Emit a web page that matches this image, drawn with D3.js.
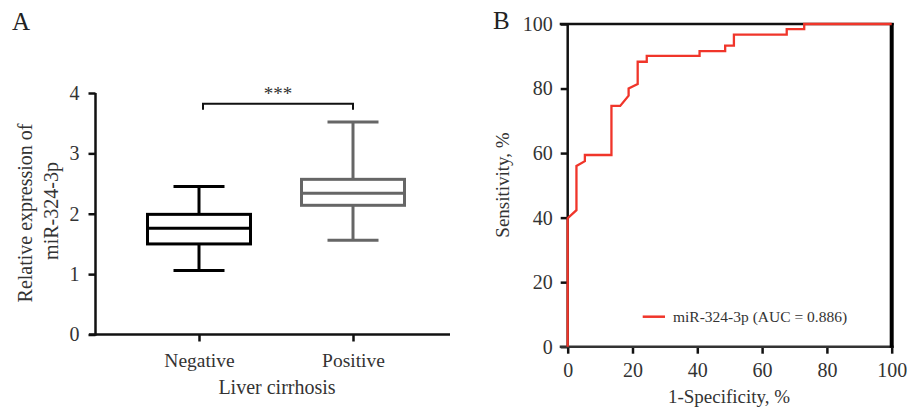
<!DOCTYPE html>
<html><head><meta charset="utf-8">
<script src="https://cdn.jsdelivr.net/npm/d3@7"></script>
<style>
html,body{margin:0;padding:0;background:#fff;}
svg{display:block;font-family:"Liberation Serif","DejaVu Serif",serif;}
</style></head>
<body>
<svg id="chart" width="907" height="409"></svg>
<script>
// ---- Panel A data ----
const categories = ["Negative", "Positive"];
const whiskerLow = [1.06, 1.56];
const q1 = [1.50, 2.14];
const median = [1.76, 2.34];
const q3 = [1.99, 2.57];
const whiskerHigh = [2.45, 3.52];
const yTicksA = [0, 1, 2, 3, 4];

// ---- Panel B data (ROC) ----
const fpr = [0, 0, 2.7, 2.7, 5.3, 5.3, 13.5, 13.5, 16.2, 18.8, 18.8, 21.6, 21.6, 24.4, 24.4, 40.7, 40.7, 48.6, 48.6, 51.3, 51.3, 67.6, 67.6, 73.0, 73.0, 100];
const tpr = [0, 39.8, 42.3, 56.0, 57.5, 59.4, 59.4, 74.6, 74.6, 77.8, 80.0, 81.4, 88.3, 88.3, 90.1, 90.1, 91.6, 91.6, 93.3, 93.3, 96.7, 96.7, 98.4, 98.4, 100, 100];
const ticksB = [0, 20, 40, 60, 80, 100];
const legendLabel = "miR-324-3p (AUC = 0.886)";

const svg = d3.select("#chart");
const textColor = "#333";
const serif = "Liberation Serif";

// ================= Panel A =================
const yA = d3.scaleLinear().domain([0, 4]).range([334.5, 93]);
const xA = d3.scalePoint().domain(categories).range([122, 430]).padding(0.5);
const gA = svg.append("g");

// Y axis
const yAxisA = gA.append("g").attr("transform", "translate(95.5,0)")
  .call(d3.axisLeft(yA).tickValues(yTicksA).tickSize(7).tickPadding(9).tickFormat(d3.format("d")));
yAxisA.select(".domain").remove();
yAxisA.selectAll(".tick line").attr("stroke", "#111").attr("stroke-width", 2.5);
yAxisA.selectAll(".tick text").attr("font-size", 20).attr("fill", textColor).attr("font-family", serif);
gA.append("line").attr("x1", 95.5).attr("x2", 95.5).attr("y1", yA(4)).attr("y2", yA(0) + 1.2)
  .attr("stroke", "#111").attr("stroke-width", 2.5);

// X axis
const xAxisA = gA.append("g").attr("transform", `translate(0,${yA(0)})`)
  .call(d3.axisBottom(xA).tickSize(7).tickPadding(12));
xAxisA.select(".domain").remove();
xAxisA.selectAll(".tick line").attr("stroke", "#111").attr("stroke-width", 2.5);
xAxisA.selectAll(".tick text").attr("font-size", 19.5).attr("fill", textColor).attr("font-family", serif);
gA.append("line").attr("x1", 89).attr("x2", 450).attr("y1", yA(0)).attr("y2", yA(0))
  .attr("stroke", "#111").attr("stroke-width", 2.5);

// Boxes
const boxW = 103, capW = 51;
const boxColors = ["#000", "#666"];
categories.forEach((c, i) => {
  const cx = xA(c);
  const g = gA.append("g").attr("stroke", boxColors[i]).attr("stroke-width", 3).attr("fill", "none");
  g.append("line").attr("x1", cx).attr("x2", cx).attr("y1", yA(whiskerHigh[i])).attr("y2", yA(q3[i]));
  g.append("line").attr("x1", cx).attr("x2", cx).attr("y1", yA(q1[i])).attr("y2", yA(whiskerLow[i]));
  g.append("line").attr("x1", cx - capW / 2).attr("x2", cx + capW / 2).attr("y1", yA(whiskerHigh[i])).attr("y2", yA(whiskerHigh[i]));
  g.append("line").attr("x1", cx - capW / 2).attr("x2", cx + capW / 2).attr("y1", yA(whiskerLow[i])).attr("y2", yA(whiskerLow[i]));
  g.append("rect").attr("x", cx - boxW / 2).attr("y", yA(q3[i])).attr("width", boxW).attr("height", yA(q1[i]) - yA(q3[i]));
  g.append("line").attr("x1", cx - boxW / 2).attr("x2", cx + boxW / 2).attr("y1", yA(median[i])).attr("y2", yA(median[i]));
});

// Significance bracket
const brY = yA(3.82);
const brL = xA(categories[0]) + 4, brR = xA(categories[1]);
gA.append("path")
  .attr("d", `M${brL},${brY + 6} V${brY} H${brR} V${brY + 6}`)
  .attr("fill", "none").attr("stroke", "#111").attr("stroke-width", 2);
gA.append("text").attr("x", (brL + brR) / 2).attr("y", 99.5)
  .attr("text-anchor", "middle").attr("font-size", 19).attr("fill", textColor).text("***");

// Titles
gA.append("text").attr("x", 12).attr("y", 30).attr("font-size", 25).attr("fill", "#222").text("A");
gA.append("text").attr("transform", "translate(32,213) rotate(-90)").attr("text-anchor", "middle")
  .attr("font-size", 20).attr("fill", textColor).text("Relative expression of");
gA.append("text").attr("transform", "translate(58,211) rotate(-90)").attr("text-anchor", "middle")
  .attr("font-size", 20).attr("fill", textColor).text("miR-324-3p");
gA.append("text").attr("x", 277).attr("y", 394).attr("text-anchor", "middle")
  .attr("font-size", 20).attr("fill", textColor).text("Liver cirrhosis");

// ================= Panel B =================
const xB = d3.scaleLinear().domain([0, 100]).range([567.7, 891.7]);
const yB = d3.scaleLinear().domain([0, 100]).range([346.7, 24]);
const gB = svg.append("g");

const yAxisB = gB.append("g").attr("transform", `translate(${xB(0)},0)`)
  .call(d3.axisLeft(yB).tickValues(ticksB).tickSize(7).tickPadding(8));
yAxisB.select(".domain").remove();
yAxisB.selectAll(".tick line").attr("stroke", "#111").attr("stroke-width", 2.5);
yAxisB.selectAll(".tick text").attr("font-size", 20).attr("fill", textColor).attr("font-family", serif);

const xAxisB = gB.append("g").attr("transform", `translate(0,${yB(0)})`)
  .call(d3.axisBottom(xB).tickValues(ticksB).tickSize(7).tickPadding(9));
xAxisB.select(".domain").remove();
xAxisB.selectAll(".tick line").attr("stroke", "#111").attr("stroke-width", 2.5);
xAxisB.selectAll(".tick text").attr("font-size", 20).attr("fill", textColor).attr("font-family", serif);

// Frame
gB.append("line").attr("x1", xB(0) - 8).attr("x2", xB(100) + 2).attr("y1", yB(100)).attr("y2", yB(100)).attr("stroke", "#111").attr("stroke-width", 2.5);
gB.append("line").attr("x1", xB(0)).attr("x2", xB(0)).attr("y1", yB(100)).attr("y2", yB(0)).attr("stroke", "#111").attr("stroke-width", 2.5);
gB.append("line").attr("x1", xB(0) - 8).attr("x2", xB(100) + 2).attr("y1", yB(0)).attr("y2", yB(0)).attr("stroke", "#333").attr("stroke-width", 2.5);
gB.append("line").attr("x1", xB(100)).attr("x2", xB(100)).attr("y1", yB(100) - 1).attr("y2", yB(0) + 1).attr("stroke", "#000").attr("stroke-width", 4);

// ROC curve
const rocData = fpr.map((f, i) => [f, tpr[i]]);
gB.append("path").datum(rocData)
  .attr("d", d3.line().x(d => xB(d[0])).y(d => yB(d[1])))
  .attr("fill", "none").attr("stroke", "#f0352a").attr("stroke-width", 2.3).attr("stroke-linejoin", "miter");

// Legend
gB.append("line").attr("x1", 642.7).attr("x2", 665).attr("y1", 316.7).attr("y2", 316.7)
  .attr("stroke", "#f0352a").attr("stroke-width", 2.5);
gB.append("text").attr("x", 673).attr("y", 321.5).attr("font-size", 15.5).attr("fill", textColor).text(legendLabel);

// Titles
gB.append("text").attr("x", 493).attr("y", 29).attr("font-size", 25).attr("fill", "#222").text("B");
gB.append("text").attr("transform", "translate(509,185) rotate(-90)").attr("text-anchor", "middle")
  .attr("font-size", 19).attr("fill", textColor).text("Sensitivity, %");
gB.append("text").attr("x", 729).attr("y", 403).attr("text-anchor", "middle")
  .attr("font-size", 19).attr("fill", textColor).text("1-Specificity, %");
</script>
</body></html>
